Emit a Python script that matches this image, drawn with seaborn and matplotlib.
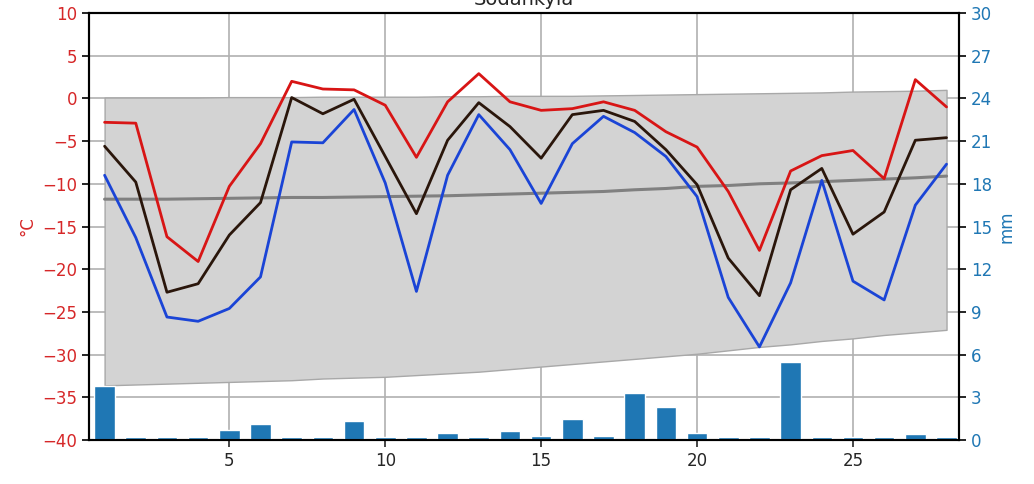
import numpy as np
import pandas as pd
import matplotlib
matplotlib.use("Agg")
import matplotlib.pyplot as plt
import seaborn as sns

days = list(range(1, 29))
t_max = [-2.8, -2.9, -16.2, -19.1, -10.3, -5.3, 2.0, 1.1, 1.0, -0.8, -6.9, -0.4, 2.9, -0.4,
         -1.4, -1.2, -0.4, -1.4, -3.9, -5.7, -10.9, -17.8, -8.5, -6.7, -6.1, -9.4, 2.2, -1.0]
t_mean = [-5.6, -9.8, -22.7, -21.7, -16.0, -12.2, 0.1, -1.8, -0.1, -6.8, -13.5, -4.9, -0.5, -3.3,
          -7.0, -1.9, -1.4, -2.7, -6.0, -10.1, -18.7, -23.1, -10.7, -8.2, -15.9, -13.3, -4.9, -4.6]
t_min = [-9.0, -16.3, -25.6, -26.1, -24.6, -20.9, -5.1, -5.2, -1.3, -9.9, -22.6, -9.0, -1.9, -6.0,
         -12.3, -5.3, -2.1, -4.0, -6.8, -11.5, -23.3, -29.1, -21.6, -9.6, -21.4, -23.6, -12.5, -7.7]
clim_mean = [-11.8, -11.8, -11.8, -11.75, -11.7, -11.65, -11.6, -11.6, -11.55, -11.5, -11.45, -11.4,
             -11.3, -11.2, -11.1, -11.0, -10.9, -10.7, -10.55, -10.3, -10.2, -10.0, -9.9, -9.75,
             -9.6, -9.45, -9.3, -9.1]
clim_high = [0.1, 0.1, 0.1, 0.1, 0.15, 0.15, 0.15, 0.2, 0.2, 0.2, 0.2, 0.25, 0.25, 0.3,
             0.3, 0.3, 0.35, 0.4, 0.45, 0.5, 0.55, 0.6, 0.65, 0.7, 0.8, 0.85, 0.9, 1.0]
clim_low = [-33.6, -33.5, -33.4, -33.3, -33.2, -33.1, -33.0, -32.8, -32.7, -32.6, -32.4, -32.2,
            -32.0, -31.7, -31.4, -31.1, -30.8, -30.5, -30.2, -29.9, -29.5, -29.1, -28.8, -28.4,
            -28.1, -27.7, -27.4, -27.1]
precip = [3.8, 0.2, 0.2, 0.2, 0.7, 1.1, 0.2, 0.2, 1.3, 0.2, 0.2, 0.5, 0.2, 0.6,
          0.3, 1.5, 0.3, 3.3, 2.3, 0.5, 0.2, 0.2, 5.5, 0.2, 0.2, 0.2, 0.4, 0.2]

df = pd.DataFrame({"day": days, "tmax": t_max, "tmean": t_mean, "tmin": t_min,
                   "clim": clim_mean, "hi": clim_high, "lo": clim_low, "rr": precip})

sns.set_style("ticks")
plt.rcParams["font.family"] = ["DejaVu Sans"]

fig = plt.figure(figsize=(10.34, 4.84), dpi=100)
ax = fig.add_axes([89 / 1034, 1 - 440 / 484, (959 - 89) / 1034, (440 - 13) / 484])
ax2 = ax.twinx()

ax.fill_between(df["day"], df["lo"], df["hi"], facecolor="#d3d3d3", edgecolor="#a8a8a8",
                linewidth=1.0, zorder=1)
sns.lineplot(data=df, x="day", y="clim", ax=ax, color="#808080", linewidth=2.2, zorder=3)
sns.lineplot(data=df, x="day", y="tmax", ax=ax, color="#d81515", linewidth=2, zorder=4)
sns.lineplot(data=df, x="day", y="tmean", ax=ax, color="#2a160b", linewidth=2, zorder=4)
sns.lineplot(data=df, x="day", y="tmin", ax=ax, color="#1a44d6", linewidth=2, zorder=4)

ax2.bar(df["day"], df["rr"], width=0.66, color="#1f77b4")

ax.set_xlim(0.5, 28.4)
ax.set_ylim(-40, 10)
ax.set_yticks(np.arange(-40, 11, 5))
ax.set_xticks([5, 10, 15, 20, 25])
ax2.set_ylim(0, 30)
ax2.set_yticks(np.arange(0, 31, 3))

ax.grid(True, color="#b0b0b0", linewidth=1.2)
ax.set_xlabel("")
ax.set_ylabel("°C", color="#d62728", fontsize=12)
ax2.set_ylabel("mm", color="#1f77b4", fontsize=12)
ax.tick_params(axis="y", colors="#d62728", labelsize=12, length=5, width=1.2)
ax.tick_params(axis="y", color="black")
ax.tick_params(axis="x", labelsize=12, length=5, width=1.2)
ax2.tick_params(axis="y", labelcolor="#1f77b4", labelsize=12, length=5, width=1.2, color="black")
for a in (ax, ax2):
    for s in a.spines.values():
        s.set_visible(True)
        s.set_linewidth(1.5)
        s.set_color("black")

ax.set_title("Sodankylä", fontsize=14)

fig.savefig("out.png", dpi=100)
